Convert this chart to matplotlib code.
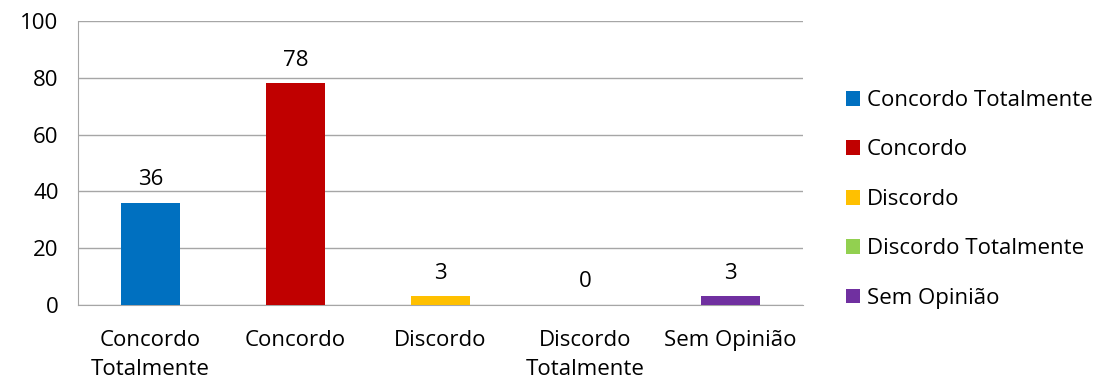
import matplotlib
matplotlib.use('Agg')
import matplotlib.pyplot as plt
from matplotlib.patches import Patch

# ── Data ───────────────────────────────────────────────────────────────────────
categories = ['Concordo Totalmente', 'Concordo', 'Discordo', 'Discordo Totalmente', 'Sem Opinião']
tick_labels = ['Concordo\nTotalmente', 'Concordo', 'Discordo', 'Discordo\nTotalmente', 'Sem Opinião']
values = [36, 78, 3, 0, 3]
colors = ['#0070C0', '#C00000', '#FFC000', '#92D050', '#7030A0']

plt.rcParams['font.family'] = ['Open Sans', 'DejaVu Sans']
FS = 16

fig = plt.figure(figsize=(11.1, 3.85), dpi=100)
ax = fig.add_axes([0.0703, 0.2078, 0.6532, 0.7377])

x = range(len(categories))
ax.bar(x, values, width=0.41, color=colors, zorder=3)
for xi, v in zip(x, values):
    ax.text(xi, v + 4.5, str(v), ha='center', va='bottom', fontsize=FS)

ax.set_xlim(-0.5, len(categories) - 0.5)
ax.set_ylim(0, 100)
ax.set_yticks(range(0, 101, 20))
ax.set_xticks(list(x))
ax.set_xticklabels(tick_labels, fontsize=FS, linespacing=1.5)
ax.tick_params(axis='y', labelsize=FS, length=0, pad=14)
ax.tick_params(axis='x', length=0, pad=18)
ax.grid(axis='y', color='#A6A6A6', linewidth=1, zorder=0)
for s in ['top', 'right']:
    ax.spines[s].set_visible(False)
ax.spines['left'].set_color('#A6A6A6')
ax.spines['bottom'].set_color('#A6A6A6')

handles = [Patch(facecolor=c, label=l) for c, l in zip(colors, categories)]
fig.legend(handles=handles, loc='center left', bbox_to_anchor=(0.762, 0.482),
           frameon=False, fontsize=FS, handlelength=0.65, handleheight=0.65,
           handletextpad=0.3, labelspacing=1.28, borderpad=0, borderaxespad=0)

plt.savefig('out.png', dpi=100)
plt.close()
